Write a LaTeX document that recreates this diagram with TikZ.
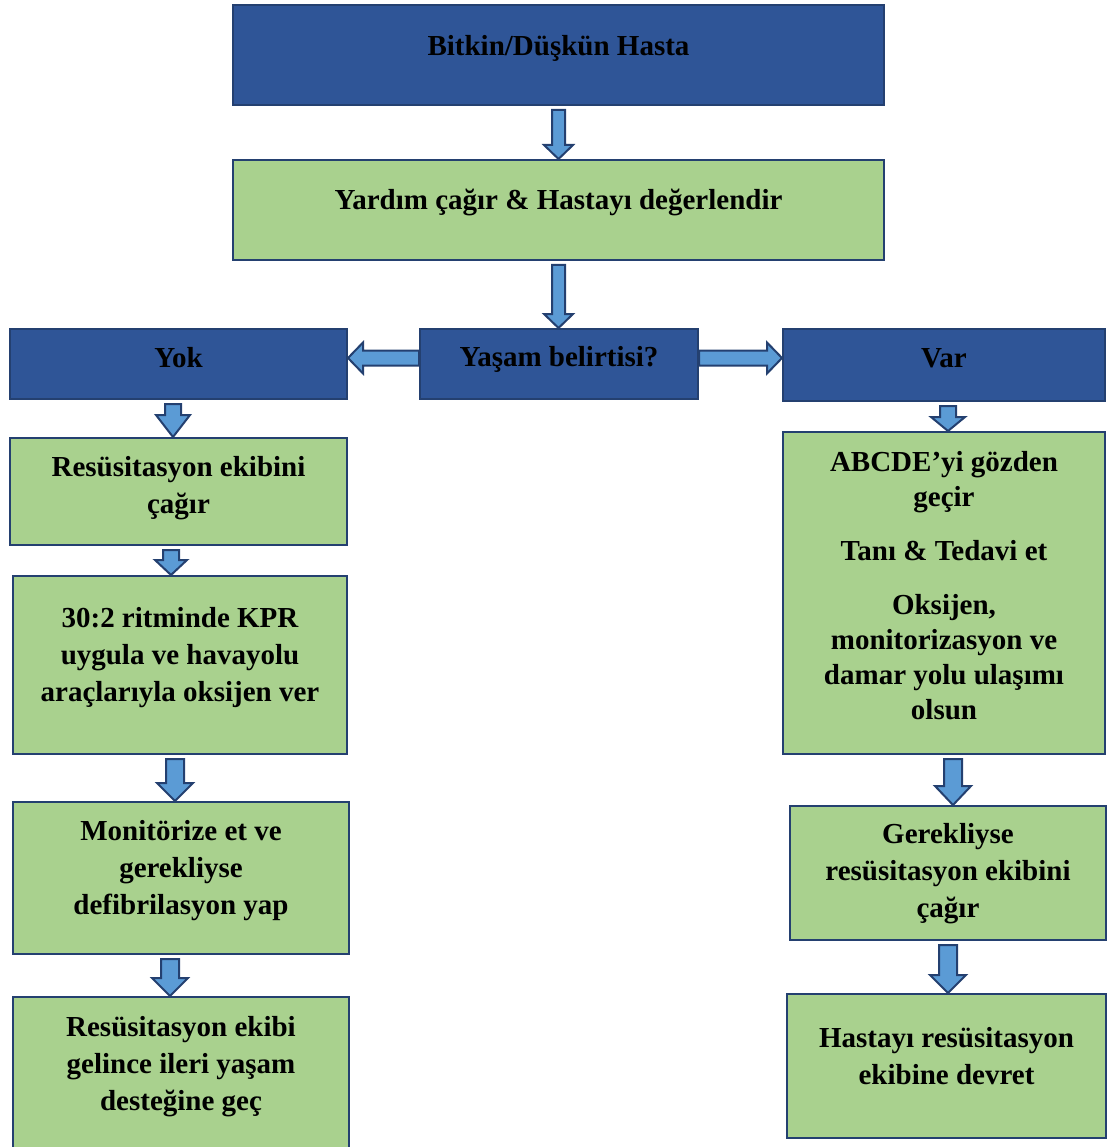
\documentclass[tikz,border=0pt]{standalone}
\usepackage{fontspec}
\setmainfont{Liberation Serif}
\usetikzlibrary{positioning, calc}
\definecolor{navy}{RGB}{47,85,151}
\definecolor{edge}{RGB}{36,64,112}
\definecolor{leaf}{RGB}{169,209,142}
\definecolor{sky}{RGB}{91,155,213}

% block arrow: tail, tip, shaft half width, head half width, head length
\newcommand{\blkshape}[5]{%
  \coordinate (hb) at ($(#2)!#5!(#1)$);
  \draw[blkarrow] ($(#1)!#3!90:(#2)$) -- ($(hb)!#3!90:(#2)$) -- ($(hb)!#4!90:(#2)$)
    -- (#2) -- ($(hb)!#4!-90:(#2)$) -- ($(hb)!#3!-90:(#2)$) -- ($(#1)!#3!-90:(#2)$) -- cycle;}
% downward block arrow between two boxes: from, to, xshift, shaft, head, length
\newcommand{\vblk}[6]{%
  \coordinate (#1-#2-t) at ([xshift=#3, yshift=-4pt]#1.south);
  \coordinate (#1-#2-h) at (#1-#2-t |- #2.north);
  \blkshape{#1-#2-t}{#1-#2-h}{#4}{#5}{#6}}

\begin{document}
\begin{tikzpicture}[x=1pt, y=-1pt,
    box/.style={rectangle, draw=edge, line width=2pt, fill=#1, inner sep=0pt},
    box/.default=leaf,
    txt/.style={align=center, font=\bfseries\fontsize{29}{37}\selectfont, inner sep=0pt},
    blkarrow/.style={draw=edge, fill=sky, line width=2pt, line join=miter}
  ]
  \useasboundingbox (0,0) rectangle (1106,1147);

  % top of the chart
  \node[box=navy, minimum width=651pt, minimum height=100pt] (hasta) at (558.5,55) {};
  \node[txt] (hasta-t) at ([yshift=7pt]hasta.center) {Bitkin/Düşkün Hasta};
  \node[box, minimum width=651pt, minimum height=100pt] (yardim) at (558.5,210) {};
  \node[txt] (yardim-t) at ([yshift=8pt]yardim.center) {Yardım çağır \& Hastayı değerlendir};

  % decision row
  \node[box=navy, minimum width=278pt, minimum height=70pt] (yasam) at (559,364) {};
  \node[txt] (yasam-t) at ([yshift=5pt]yasam.center) {Yaşam belirtisi?};
  \node[box=navy, minimum width=337pt, minimum height=70pt] (yok) at (178.5,364) {};
  \node[txt] (yok-t) at ([yshift=6pt]yok.center) {Yok};
  \node[box=navy, minimum width=322pt, minimum height=72pt] (var) at (944,365) {};
  \node[txt] (var-t) at ([yshift=7pt]var.center) {Var};

  % left column
  \node[box, minimum width=337pt, minimum height=107pt] (resekip) at (178.5,491.5) {};
  \node[txt] (resekip-t) at ([yshift=3pt]resekip.center) {Resüsitasyon ekibini\\çağır};
  \node[box, minimum width=334pt, minimum height=178pt] (kpr) at (180,665) {};
  \node[txt] (kpr-t) at ([yshift=7pt]kpr.center) {30:2 ritminde KPR\\uygula ve havayolu\\araçlarıyla oksijen ver};
  \node[box, minimum width=336pt, minimum height=152pt] (monitor) at (181,878) {};
  \node[txt] (monitor-t) at ([yshift=7pt]monitor.center) {Monitörize et ve\\gerekliyse\\defibrilasyon yap};
  \node[box, minimum width=336pt, minimum height=170pt] (ileri) at (181,1082) {};
  \node[txt] (ileri-t) at ([yshift=15pt]ileri.center) {Resüsitasyon ekibi\\gelince ileri yaşam\\desteğine geç};

  % right column
  \node[box, minimum width=322pt, minimum height=322pt] (abcde) at (944,593) {};
  \node[txt, font=\bfseries\fontsize{29}{35}\selectfont] (abcde-t) at ([yshift=7.5pt]abcde.center)
    {ABCDE’yi gözden\\geçir\\[19pt]Tanı \& Tedavi et\\[19pt]Oksijen,\\monitorizasyon ve\\damar yolu ulaşımı\\olsun};
  \node[box, minimum width=316pt, minimum height=134pt] (gerek) at (948,873) {};
  \node[txt] (gerek-t) at ([yshift=-1pt]gerek.center) {Gerekliyse\\resüsitasyon ekibini\\çağır};
  \node[box, minimum width=319pt, minimum height=144pt] (devret) at (946.5,1066) {};
  \node[txt] (devret-t) at ([yshift=10pt]devret.center) {Hastayı resüsitasyon\\ekibine devret};

  % block arrows
  \vblk{hasta}{yardim}{0pt}{6.5pt}{14.5pt}{14pt}
  \vblk{yardim}{yasam}{0pt}{6.5pt}{14.5pt}{14pt}
  \vblk{yok}{resekip}{-5.5pt}{8pt}{17pt}{22pt}
  \vblk{resekip}{kpr}{-7.5pt}{8pt}{16pt}{15pt}
  \vblk{kpr}{monitor}{-5pt}{9pt}{18pt}{18pt}
  \vblk{monitor}{ileri}{-11pt}{9pt}{18pt}{18pt}
  \vblk{var}{abcde}{4pt}{8pt}{17pt}{14pt}
  \vblk{abcde}{gerek}{9pt}{9pt}{18pt}{19pt}
  \vblk{gerek}{devret}{0pt}{9pt}{18pt}{18pt}

  \coordinate (yasam-yok-t) at ([yshift=6pt]yasam.west);
  \coordinate (yasam-yok-h) at (yasam-yok-t -| yok.east);
  \blkshape{yasam-yok-t}{yasam-yok-h}{7.5pt}{15.5pt}{15pt}
  \coordinate (yasam-var-t) at ([yshift=6pt]yasam.east);
  \coordinate (yasam-var-h) at (yasam-var-t -| var.west);
  \blkshape{yasam-var-t}{yasam-var-h}{7.5pt}{15.5pt}{15pt}
\end{tikzpicture}
\end{document}
